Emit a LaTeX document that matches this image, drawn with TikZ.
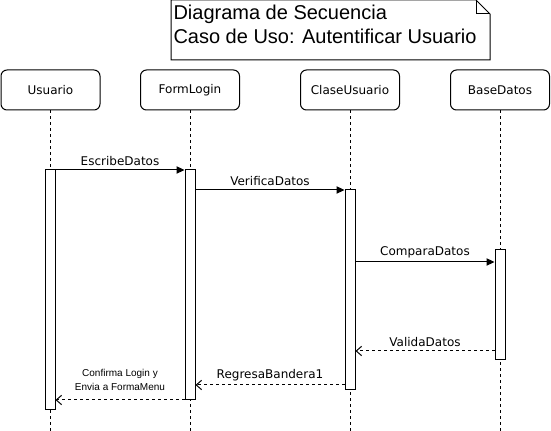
\documentclass[tikz,border=0pt]{standalone}
\usepackage{fontspec}
\setmainfont{DejaVu Sans}
\newfontfamily\arialfont{Liberation Sans}
\usetikzlibrary{arrows.meta,positioning}

\begin{document}
\begin{tikzpicture}[x=0.75pt,y=-0.75pt,
      head/.style={rectangle, draw=black, rounded corners=4.5pt, minimum width=74.25pt, minimum height=30pt, inner sep=0pt, font=\fontsize{9}{11}\selectfont},
      act/.style={rectangle, draw=black, fill=white, minimum width=7.5pt, inner sep=0pt},
      lifeline/.style={dashed, dash pattern=on 2.25pt off 2.25pt},
      msg/.style={-{Triangle[length=6pt,width=5.5pt]}},
      ret/.style={dashed, dash pattern=on 2.25pt off 2.25pt, -{Straight Barb[length=4pt,width=7pt]}},
      lbl/.style={font=\fontsize{9}{11}\selectfont, inner sep=1pt, above=1.5pt},
      line width=0.75pt]
\useasboundingbox (0,0) rectangle (551,431);

% nota con el titulo
\draw (171,0) -- (476,0) -- (490,14) -- (490,60) -- (171,60) -- cycle;
\draw (476,0) -- (476,14) -- (490,14);
\node[anchor=north west, align=left, inner sep=0pt, font=\arialfont\fontsize{15}{18}\selectfont] (t) at (173,5) {Diagrama de Secuencia\\Caso de Uso: Autentificar Usuario};

% cabeceras
\node[head] (l1) at (50.5,90) {Usuario};
\node[head] (l2) at (190,90) {FormLogin};
\node[head] (l3) at (350,90) {ClaseUsuario};
\node[head] (l4) at (500,90) {BaseDatos};

\coordinate (fin) at (0,431);
\draw[lifeline] (l1) -- (l1 |- fin);
\draw[lifeline] (l2) -- (l2 |- fin);
\draw[lifeline] (l3) -- (l3 |- fin);
\draw[lifeline] (l4) -- (l4 |- fin);

% activaciones
\node[act, minimum height=180pt] (a1) at (50,290) {};
\node[act, minimum height=172.5pt] (a2) at (190,285) {};
\node[act, minimum height=150pt] (a3) at (350,290) {};
\node[act, minimum height=82.5pt] (a4) at (500,305) {};

\coordinate (m1) at (0,170);
\coordinate (m2) at (0,190);
\coordinate (m3) at (0,262);
\coordinate (m4) at (0,351);
\coordinate (m5) at (0,385);
\coordinate (m6) at (0,400);

\draw[msg] (a1.east |- m1) -- node[lbl] {EscribeDatos} (a2.west |- m1);
\draw[msg] (a2.east |- m2) -- node[lbl] {VerificaDatos} (a3.west |- m2);
\draw[msg] (a3.east |- m3) -- node[lbl] {ComparaDatos} (a4.west |- m3);
\draw[ret] (a4.west |- m4) -- node[lbl] {ValidaDatos} (a3.east |- m4);
\draw[ret] (a3.west |- m5) -- node[lbl] {RegresaBandera1} (a2.east |- m5);
\draw[ret] (a2.west |- m6) -- node[above=5.5pt, align=center, inner sep=1pt, font=\arialfont\fontsize{7.5}{11}\selectfont] {Confirma Login y\\Envia a FormaMenu} (a1.east |- m6);

\end{tikzpicture}
\end{document}
